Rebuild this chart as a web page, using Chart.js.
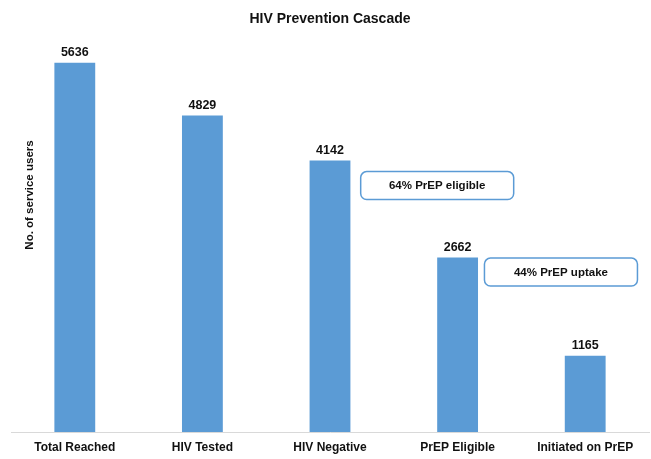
<!DOCTYPE html>
<html>
<head>
<meta charset="utf-8">
<title>HIV Prevention Cascade</title>
<script src="https://cdn.jsdelivr.net/npm/chart.js@4"></script>
<style>
  html, body { margin: 0; padding: 0; background: #fff; }
  #wrap { width: 651px; height: 459px; position: relative; }
</style>
</head>
<body>
<div id="wrap"><canvas id="chart"></canvas></div>
<script>
// chart data
const categories = ['Total Reached', 'HIV Tested', 'HIV Negative', 'PrEP Eligible', 'Initiated on PrEP'];
const serviceUsers = [5636, 4829, 4142, 2662, 1165];
const noteTexts = ['64% PrEP eligible', '44% PrEP uptake'];

const FONT = "'Liberation Sans', Arial, Helvetica, sans-serif";
const BAR_BLUE = '#5b9bd5';

// value labels above each bar
const valueLabels = {
    id: 'valueLabels',
    afterDatasetsDraw(chart) {
        const ctx = chart.ctx;
        const meta = chart.getDatasetMeta(0);
        ctx.save();
        ctx.font = 'bold 12.5px ' + FONT;
        ctx.fillStyle = '#111';
        ctx.textAlign = 'center';
        ctx.textBaseline = 'alphabetic';
        meta.data.forEach((bar, i) => {
            ctx.fillText(String(serviceUsers[i]), bar.x, bar.y - 7);
        });
        ctx.restore();
    }
};

// rotated y axis caption, sits over the left of the plot like the original
const yCaption = {
    id: 'yCaption',
    afterDraw(chart) {
        const ctx = chart.ctx;
        ctx.save();
        ctx.translate(30, 195);
        ctx.rotate(-Math.PI / 2);
        ctx.font = 'bold 11.5px ' + FONT;
        ctx.fillStyle = '#111';
        ctx.textAlign = 'center';
        ctx.textBaseline = 'middle';
        ctx.fillText('No. of service users', 0, 0);
        ctx.restore();
    }
};

// rounded callout boxes
const callouts = {
    id: 'callouts',
    afterDraw(chart) {
        const ctx = chart.ctx;
        const xs = chart.scales.x, ys = chart.scales.y;
        const anchors = [[2.84, 3760], [3.81, 2440]];
        ctx.save();
        noteTexts.forEach((txt, i) => {
            const cx = xs.getPixelForValue(anchors[i][0]);
            const cy = ys.getPixelForValue(anchors[i][1]);
            const w = 153, h = 28;
            ctx.beginPath();
            ctx.roundRect(cx - w / 2, cy - h / 2, w, h, 6);
            ctx.fillStyle = '#fff';
            ctx.fill();
            ctx.lineWidth = 1.5;
            ctx.strokeStyle = BAR_BLUE;
            ctx.stroke();
            ctx.font = 'bold 11.5px ' + FONT;
            ctx.fillStyle = '#111';
            ctx.textAlign = 'center';
            ctx.textBaseline = 'middle';
            ctx.fillText(txt, cx, cy + 0.5);
        });
        ctx.restore();
    }
};

new Chart(document.getElementById('chart'), {
    type: 'bar',
    data: {
        labels: categories,
        datasets: [{
            data: serviceUsers,
            backgroundColor: BAR_BLUE,
            borderWidth: 0,
            categoryPercentage: 1,
            barPercentage: 0.32
        }]
    },
    options: {
        responsive: true,
        maintainAspectRatio: false,
        animation: false,
        layout: { padding: { left: 11, right: 2, top: 0, bottom: -3.4 } },
        scales: {
            x: {
                grid: { display: false, drawTicks: false },
                border: { display: true, color: '#d9d9d9', width: 1 },
                ticks: {
                    padding: 8,
                    color: '#111',
                    maxRotation: 0,
                    font: { family: FONT, size: 12, weight: 'bold' }
                }
            },
            y: {
                display: false,
                min: 0,
                max: 6000
            }
        },
        plugins: {
            legend: { display: false },
            tooltip: { enabled: false },
            title: {
                display: true,
                text: 'HIV Prevention Cascade',
                color: '#111',
                font: { family: FONT, size: 14, weight: 'bold' },
                padding: { top: 11, bottom: 11 }
            }
        }
    },
    plugins: [valueLabels, yCaption, callouts]
});
</script>
</body>
</html>
